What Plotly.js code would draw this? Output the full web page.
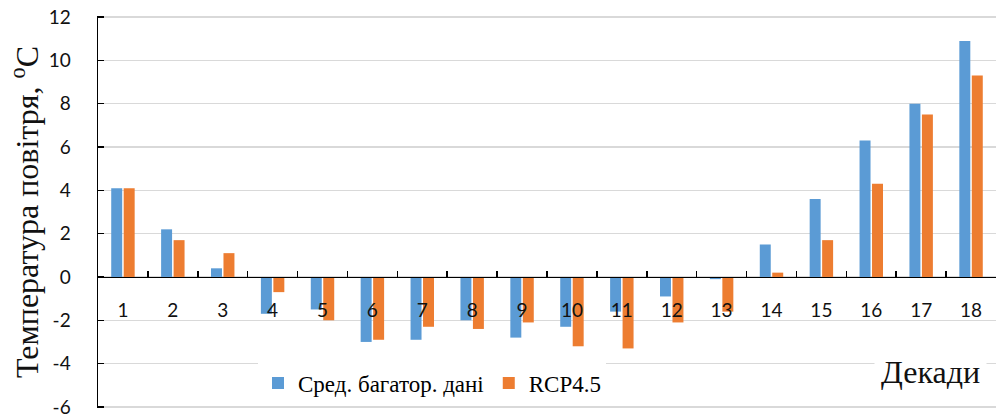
<!DOCTYPE html>
<html>
<head>
<meta charset="utf-8">
<script src="https://cdn.plot.ly/plotly-3.0.1.min.js"></script>
<style>html,body{margin:0;padding:0;background:#fff;}#chart{width:996px;height:416px;}</style>
</head>
<body>
<div id="chart"></div>
<script>
const decades = ["1","2","3","4","5","6","7","8","9","10","11","12","13","14","15","16","17","18"];
const avgData = [4.1, 2.2, 0.4, -1.7, -1.5, -3.0, -2.9, -2.0, -2.8, -2.3, -1.6, -0.9, -0.1, 1.5, 3.6, 6.3, 8.0, 10.9];
const rcp45 = [4.1, 1.7, 1.1, -0.7, -2.0, -2.9, -2.3, -2.4, -2.1, -3.2, -3.3, -2.1, -1.6, 0.2, 1.7, 4.3, 7.5, 9.3];
const seriesNames = ["Сред. багатор. дані", "RCP4.5"];
const yTitle = "Температура повітря, <sup>o</sup>C";
const xTitle = "Декади";
const yTicks = [-6, -4, -2, 0, 2, 4, 6, 8, 10, 12];

const W = 996, H = 416;
const mL = 98, mR = 0, mT = 16, mB = 8;
const plotW = W - mL - mR;
const plotH = H - mT - mB;
const yMin = -6.05, yMax = 12.05;
const zeroFrac = (0 - yMin) / (yMax - yMin);

const traces = [
  {type:'bar', x:decades, y:avgData, name:seriesNames[0], marker:{color:'#5B9BD5'}},
  {type:'bar', x:decades, y:rcp45, name:seriesNames[1], marker:{color:'#ED7D31'}}
];

const layout = {
  width:W, height:H,
  margin:{l:mL, r:mR, t:mT, b:mB, pad:0},
  paper_bgcolor:'#fff', plot_bgcolor:'#fff',
  barmode:'group', bargap:0.5, bargroupgap:0.12,
  showlegend:true,
  legend:{orientation:'h', x:(258-mL)/plotW, xanchor:'left', y:(H - mB - 383)/plotH, yanchor:'middle',
          bgcolor:'#fff', font:{family:'Liberation Serif', size:23, color:'#000'},
          itemwidth:30, tracegroupgap:0, itemclick:false},
  xaxis:{type:'category', anchor:'free', position:zeroFrac, range:[-0.5, 17.5],
         showline:true, linecolor:'#000', linewidth:1.5,
         ticks:'inside', tickson:'boundaries', ticklen:6, tickwidth:1.5, tickcolor:'#000',
         showgrid:false, zeroline:false, ticklabelstandoff:16,
         tickfont:{family:'Lato', size:19, color:'#111'}, fixedrange:true},
  yaxis:{range:[yMin, yMax], tickmode:'array', tickvals:yTicks, ticktext:yTicks.map(String),
         showline:true, linecolor:'#000', linewidth:1.5,
         ticks:'inside', ticklen:6, tickwidth:1.5, tickcolor:'#000',
         showgrid:true, gridcolor:'#d9d9d9', gridwidth:1.5, zeroline:false,
         ticklabelstandoff:22, ticklabeloverflow:'allow',
         tickfont:{family:'Lato', size:19, color:'#111'}, fixedrange:true},
  annotations:[
    {text:yTitle, xref:'paper', yref:'paper', x:(25-mL)/plotW, y:0.5, xanchor:'center', yanchor:'middle',
     textangle:-90, showarrow:false, font:{family:'Liberation Serif', size:32, color:'#111'}},
    {text:xTitle, xref:'paper', yref:'paper', x:(930-mL)/plotW, y:(H - mB - 372)/plotH, xanchor:'center', yanchor:'middle',
     showarrow:false, bgcolor:'#fff', borderpad:6, font:{family:'Liberation Serif', size:32, color:'#111'}}
  ]
};

Plotly.newPlot('chart', traces, layout, {displayModeBar:false, staticPlot:true});
</script>
</body>
</html>
